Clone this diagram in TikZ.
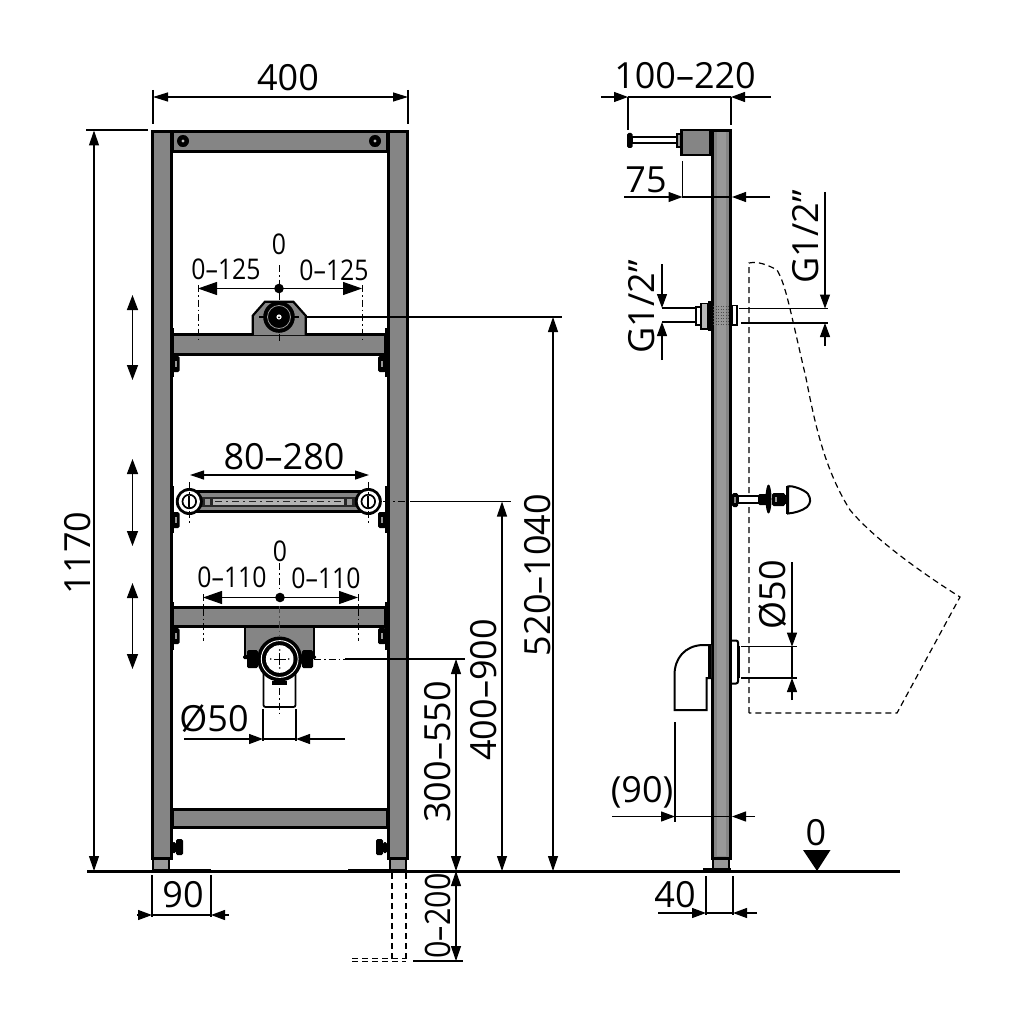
\documentclass[tikz,border=0pt]{standalone}
\usepackage{fontspec}
\setmainfont{Open Sans}
\newfontfamily\narrowf[FakeStretch=0.87]{Open Sans}
\usetikzlibrary{arrows.meta}
\definecolor{steel}{HTML}{858585}
\definecolor{steelb}{HTML}{989898}
\tikzset{
  every node/.style={inner sep=0pt,outer sep=0pt},
  lab/.style={font=\fontsize{36}{36}\selectfont},
  labs/.style={font=\narrowf\fontsize{28.5}{28.5}\selectfont},
  labn/.style={font=\narrowf\fontsize{35}{35}\selectfont},
  metal/.style={draw=black,line width=3pt,fill=steel},
  thin line/.style={line width=1.1pt},
  dim/.style={line width=1.2pt},
  bh/.style={-{Triangle[length=14pt,width=10pt]}},
  bhh/.style={{Triangle[length=15pt,width=10pt]}-{Triangle[length=15pt,width=10pt]}},
  bigh/.style={{Triangle[length=19pt,width=13pt]}-{Triangle[length=19pt,width=13pt]}},
  adj/.style={line width=1.4pt,{Triangle[length=15pt,width=11pt]}-{Triangle[length=15pt,width=11pt]}},
  cl/.style={line width=1pt,dash pattern=on 7pt off 3pt on 1.5pt off 3pt},
  dashline/.style={line width=1.2pt,dash pattern=on 6pt off 4pt},
  bolt/.style={fill=black,rounded corners=1.5pt},
}
\begin{document}
\begin{tikzpicture}[x=1pt,y=-1pt]
\useasboundingbox (0,0) rectangle (1024,1024);
\fill[white] (0,0) rectangle (1024,1024);

% ---------- front view: ground and feet
\foreach \a/\b in {153/169,390/406}{
  \draw[black,line width=2pt,fill=steelb] (\a,858) rectangle (\b,870);
}
\draw[line width=3pt] (87,871.5) -- (900,871.5);
\draw[line width=4.5pt] (152,871) -- (211,871);
\draw[line width=4.5pt] (348,871) -- (407,871);

% horizontal bars
\draw[metal] (172,131.5) rectangle (387,152);
\foreach \xx in {183,375}{
  \fill (\xx-5.8,141) -- (\xx-3,136) -- (\xx+3,136) -- (\xx+5.8,141) -- (\xx+3,146.5) -- (\xx-3,146.5) -- cycle;
  \fill (\xx,141) circle (6pt);
  \fill[steelb!60] (\xx,141) circle (1.6pt);
}
\draw[metal] (172,334.5) rectangle (385,354);
\draw[metal] (172,607) rectangle (385,626.5);
\draw[metal] (172,809) rectangle (387,827.5);

% side plates and bolts on the posts
\foreach \yy/\ya/\yb in {364/328/377,520/486/533,636/602/650}{
  \fill (171,\ya) rectangle (174,\yb);
  \fill (385,\ya) rectangle (388,\yb);
  \fill[bolt] (172,\yy-8) rectangle (179.5,\yy+8);
  \fill[bolt] (378,\yy-8) rectangle (386,\yy+8);
  \fill[steelb] (175,\yy-3) rectangle (177,\yy+3);
  \fill[steelb] (381,\yy-3) rectangle (383,\yy+3);
}
\fill[bolt] (172,842) rectangle (176,853);
\fill[bolt] (176,839) rectangle (183,855);
\fill[bolt] (383,842) rectangle (387,853);
\fill[bolt] (376,839) rectangle (383,855);

% posts
\draw[metal] (152.5,131.5) rectangle (171.5,858.5);
\draw[metal] (388,131.5) rectangle (407,858.5);

% upper bracket
\draw[draw=black,line width=2.2pt,fill=steel]
  (252.7,335) -- (252.7,315.7) -- (265,301.7) -- (293.3,301.7) -- (305.7,315.7) -- (305.7,335);
\draw[line width=1.2pt] (259,317) -- (299,317);
\fill (279,317) circle (15.8pt);
\draw[steelb,line width=.8pt] (279,317) circle (11.5pt);
\fill[white] (279,317) circle (2.6pt);
\fill (279,317.4) circle (1pt);
\draw[thin line] (305.7,317) -- (562,317);
\draw[cl] (279,265) -- (279,284);
\draw[cl] (279,293) -- (279,301);
\draw[cl] (279,334) -- (279,341);
\draw[cl] (198,285) -- (198,341);
\draw[cl] (362,285) -- (362,341);
\draw[dim,bigh] (198,288.5) -- (362,288.5);
\fill (279,288.5) circle (4.8pt);
\node[labs] (z1) at (279,244) {0};
\node[labs] (a1) at (226,269) {0–125};
\node[labs] (a2) at (334,270) {0–125};

% rail with rings
\draw[black,line width=3pt,fill=steel] (189,491.5) rectangle (368,511);
\fill[black!85] (189,497) rectangle (368,506.5);
\fill[steelb] (205,498.5) rectangle (210,504.5);
\fill[steelb] (347,498.5) rectangle (352,504.5);
\fill[black!30] (213,498.8) rectangle (344,504.5);
\draw[black!85,line width=1.4pt,dash pattern=on 7pt off 4pt on 2pt off 4pt] (215,501.6) -- (343,501.6);
\foreach \xx in {189.3,368.3}{
  \fill (\xx,501.5) circle (13.5pt);
  \fill[white] (\xx,501.5) circle (10.6pt);
  \draw[line width=1.7pt] (\xx,501.5) circle (6.8pt);
  \fill (\xx-.9,496) rectangle (\xx+.9,507);
}
\foreach \xx in {189.3,368.3}{\draw[cl] (\xx,482) -- (\xx,524);}
\draw[dim,{Triangle[length=14pt,width=9pt]}-{Triangle[length=14pt,width=9pt]}] (190,475) -- (369,475);
\node[lab] (b) at (284,457) {80–280};
\draw[cl] (383,501.5) -- (410,501.5);
\draw[thin line] (410,501.5) -- (511,501.5);

% lower bracket
\draw[black,line width=1.8pt,fill=steel] (245,627) -- (245,657) -- (314,657) -- (314,627) -- cycle;
\fill[bolt] (247,650) rectangle (258,668);
\fill[bolt] (302,650) rectangle (313,668);
\fill[bolt] (243,655) rectangle (262,659);
\fill[bolt] (298,655) rectangle (316,659);
\draw[black,line width=1.8pt,fill=white,rounded corners=2pt] (263.5,670) -- (263.5,707) -- (295.5,707) -- (295.5,670);
\fill (279.7,659) circle (22.5pt);
\draw[white,line width=.9pt] (279.7,659) circle (18.4pt);
\fill[white] (279.7,659) circle (13.8pt);
\fill (272,681) rectangle (287,685);
\draw[line width=.9pt] (274,659) -- (286,659);
\draw[line width=.9pt] (279.7,653) -- (279.7,665);
\foreach \dx/\dy in {-9/0,9/0,0/-9,0/9}{\fill (279.7+\dx,659+\dy) circle (.9pt);}
\draw[cl] (279.7,563) -- (279.7,592);
\draw[cl,black!70] (279.7,606) -- (279.7,636);
\draw[cl] (279.7,688) -- (279.7,716);
\draw[cl] (203,594) -- (203,641);
\draw[cl] (358,594) -- (358,641);
\draw[dim,bigh] (203,597.5) -- (358,597.5);
\fill (280,597.5) circle (4.8pt);
\node[labs] (z2) at (280,551) {0};
\node[labs] (c1) at (232,577) {0–110};
\node[labs] (c2) at (326,578) {0–110};
\draw[cl] (314,659) -- (345,659);
\draw[thin line] (345,659) -- (465,659);
% diameter 50, front
\draw[thin line] (263,709) -- (263,741);
\draw[thin line] (296,709) -- (296,741);
\draw[dim,bh] (184,739) -- (263,739);
\draw[dim] (263,739) -- (296,739);
\draw[dim,bh] (345,739) -- (296,739);
\node[lab] (d) at (214,719) {Ø50};

% adjustment arrows
\draw[adj] (132.5,295) -- (132.5,380);
\draw[adj] (132.5,459) -- (132.5,546);
\draw[adj] (132.5,583) -- (132.5,669);

% overall dimensions
\draw[thin line] (153,90) -- (153,124);
\draw[thin line] (408,90) -- (408,124);
\draw[dim,{Triangle[length=15pt,width=9pt]}-{Triangle[length=15pt,width=9pt]}] (153,97) -- (408,97);
\node[lab] (e) at (288,78) {400};
\draw[thin line] (86,130) -- (148,130);
\draw[dim,bhh] (94,130.5) -- (94,871);
\node[lab,rotate=90] (f) at (78,553) {1170};
\draw[dim,bhh] (553,317) -- (553,871);
\node[lab,rotate=90] (g) at (538,575) {520–1040};
\draw[dim,bhh] (502,501.5) -- (502,871);
\node[lab,rotate=90] (h) at (484,690) {400–900};
\draw[dim,bhh] (456,659) -- (456,871);
\node[lab,rotate=90] (i) at (438,752) {300–550};
\draw[dim,bhh] (456,871) -- (456,961);
\node[labn,rotate=90] (j) at (438,916) {0–200};
\draw[thin line] (413,961) -- (463,961);
\draw[dashline] (392,873) -- (392,959);
\draw[dashline] (406,873) -- (406,960);
\draw[dashline,line width=1pt] (352,958.5) -- (406,958.5);
\draw[dashline,line width=1pt] (352,961) -- (406,961);
% 90
\draw[thin line] (152,875) -- (152,917);
\draw[thin line] (211,875) -- (211,917);
\draw[dim,bh] (137,915) -- (152,915);
\draw[dim] (152,915) -- (211,915);
\draw[dim,bh] (229,915) -- (211,915);
\node[lab] (k) at (183,895) {90};

% ---------- side view
\draw[black,line width=2pt,fill=steelb] (713,858) rectangle (729,870);
\draw[line width=4.5pt] (703,870.5) -- (731,870.5);
\draw[metal] (712.5,130.5) rectangle (730,858);
\fill[steelb] (717,132) rectangle (726,856);
\draw[black,line width=2.5pt,fill=steel] (681.5,130) rectangle (710,155);
\draw[line width=2pt,fill=white] (632,137.5) rectangle (677,143.5);
\fill[bolt] (627,133) rectangle (632.5,148);
\draw[line width=2pt,fill=steelb] (677,134) rectangle (681,147);
% top dims
\draw[thin line] (628,97) -- (628,130);
\draw[thin line] (731,97) -- (731,125);
\draw[dim,bh] (601,97) -- (628,97);
\draw[dim,bh] (771,97) -- (731,97);
\draw[dim] (628,97) -- (731,97);
\node[lab] (l) at (685,76) {100–220};
\draw[thin line] (682.5,161) -- (682.5,198);
\draw[dim,bh] (624,197) -- (682.5,197);
\draw[dim] (682.5,197) -- (731,197);
\draw[dim,bh] (770,197) -- (732,197);
\node[lab] (m) at (646,180) {75};

% inlet fitting
\fill (708,301) rectangle (711,331);
\draw[line width=1.8pt,fill=steelb!70] (701,303.5) rectangle (708,329);
\draw[line width=1.8pt,fill=white] (696,307) rectangle (701,325);
\draw[line width=1.8pt,fill=white] (732,305.5) rectangle (737,325);
\foreach \yy in {306,309,...,325}{
  \draw[black!70,line width=.6pt,dash pattern=on 1pt off 1.5pt] (713,\yy) -- (729,\yy);
}
\draw[thin line] (662,308) -- (696,308);
\draw[thin line] (662,322) -- (696,322);
\draw[thin line] (739,308.5) -- (828,308.5);
\draw[thin line] (741,323) -- (828,323);
\draw[dim,bh] (662,264) -- (662,308);
\draw[dim,bh] (662,360) -- (662,322);
\draw[dim,bh] (825,192) -- (825,308.5);
\draw[dim,bh] (825,346) -- (825,323);
\node[lab,rotate=90] (n) at (642,307) {G1/2"};
\node[lab,rotate=90] (o) at (806,237) {G1/2"};

% outer urinal outline
\draw[dashline] (749,713) -- (749,263) .. controls (758,261) and (768,265) .. (777,270)
  .. controls (786,285) and (790,310) .. (806,378)
  .. controls (815,425) and (825,470) .. (850,510)
  .. controls (875,540) and (925,575) .. (960,597)
  -- (897,713) -- cycle;

% middle fixture
\draw[line width=1.5pt,fill=white] (738,496) rectangle (760,503);
\fill[bolt] (732,493) rectangle (738,507);
\fill[steel] (734,497) rectangle (736,503);
\fill[bolt] (758,494) rectangle (769,505);
\fill (768.5,499) ellipse (3pt and 14.5pt);
\fill[bolt] (772,493) rectangle (785,506);
\fill[steelb] (775,497) rectangle (777,502);
\draw[line width=1.5pt,fill=white] (785,496) rectangle (788,503);
\draw[line width=2pt,fill=white] (788,486.5) .. controls (792,485) and (805,490) .. (808,494)
  .. controls (811,499) and (811,503) .. (807,507)
  .. controls (802,511) and (794,513) .. (788,513.5) -- cycle;
\draw[line width=2.4pt] (787,486) -- (787,514);

% outlet
\draw[line width=2pt,fill=white] (711,645) -- (702,645) .. controls (685,646) and (674.5,658) .. (674.5,675)
  -- (674.5,710) -- (706.5,710) -- (706.5,678) -- (711,678);
\fill (707.5,646) rectangle (711,678);
\draw[line width=2pt,fill=white,rounded corners=2pt] (732,640.5) -- (738,640.5) -- (738,683.5) -- (732,683.5) ;
\draw[line width=3pt] (738.5,646) -- (738.5,678);
\draw[thin line] (741,646.7) -- (797,646.7);
\draw[thin line] (741,678) -- (797,678);
\draw[dim,bh] (792,562) -- (792,646.7);
\draw[dim,bh] (792,700) -- (792,678);
\draw[dim] (792,646.7) -- (792,678);
\node[lab,rotate=90] (p) at (773,595) {Ø50};

% (90)
\draw[thin line] (675,722) -- (675,822);
\draw[dim,bh] (612,816.5) -- (675,816.5);
\draw[dim] (675,816.5) -- (732,816.5);
\draw[dim,bh] (755,816.5) -- (732,816.5);
\node[lab] (q) at (642,792) {(90)};

% 40
\draw[thin line] (706,876) -- (706,915);
\draw[thin line] (733,876) -- (733,915);
\draw[dim,bh] (658,913) -- (706,913);
\draw[dim] (706,913) -- (733,913);
\draw[dim,bh] (757,913) -- (733,913);
\node[lab] (r) at (675,895) {40};

% zero mark
\fill (803,850) -- (830.5,850) -- (817,871) -- cycle;
\node[lab] (s) at (816,833) {0};
\end{tikzpicture}
\end{document}
